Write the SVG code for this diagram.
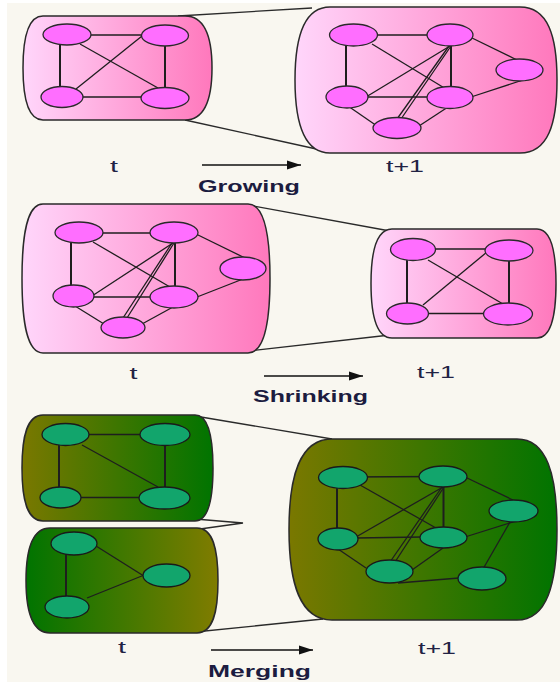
<svg xmlns="http://www.w3.org/2000/svg" width="560" height="682" viewBox="0 0 560 682">
  <defs>
    <linearGradient id="pinkGrad" x1="0" y1="0" x2="1" y2="0">
      <stop offset="0" stop-color="#ffd6fb"/>
      <stop offset="1" stop-color="#ff78bc"/>
    </linearGradient>
    <linearGradient id="oliveToGreen" x1="0" y1="0" x2="1" y2="0">
      <stop offset="0" stop-color="#7a7800"/>
      <stop offset="1" stop-color="#007400"/>
    </linearGradient>
    <linearGradient id="greenToOlive" x1="0" y1="0" x2="1" y2="0">
      <stop offset="0" stop-color="#007400"/>
      <stop offset="1" stop-color="#807c00"/>
    </linearGradient>
    <marker id="arrowHead" markerWidth="14" markerHeight="10" refX="14" refY="5" orient="auto" markerUnits="userSpaceOnUse">
      <path d="M0,0.5 L14,5 L0,9.5 Z" fill="#111"/>
    </marker>
    <style>
      .panel { stroke: #2a2a2a; stroke-width: 1.5; }
      .link { stroke: #2a2a2a; stroke-width: 1.3; fill: none; }
      .edge { stroke: #1e1e1e; stroke-width: 1.3; fill: none; }
      .edge.thick { stroke-width: 2; }
      .pink { fill: #ff6eff; stroke: #2a2a2a; stroke-width: 1.3; }
      .teal { fill: #12a56c; stroke: #1a1a1a; stroke-width: 1.3; }
      .step { stroke: #111; stroke-width: 1.5; fill: none; }
      .time { font-family: "Liberation Sans", Arial, sans-serif; font-size: 17px; fill: #222244; }
      .title { font-family: "Liberation Sans", Arial, sans-serif; font-size: 17px; font-weight: bold; fill: #1c1c40; }
    </style>
  </defs>

  <!-- page -->
  <rect x="0" y="0" width="560" height="682" fill="#ffffff"/>
  <rect x="7" y="3" width="553" height="679" fill="#f9f7f0"/>

  <!-- lines joining the snapshots, and the time arrows -->
  <g id="connectors">
    <line class="link" x1="178" y1="16" x2="312" y2="8"/>
    <line class="link" x1="185" y1="120" x2="330" y2="152"/>
    <line class="link" x1="248" y1="205" x2="390" y2="231"/>
    <line class="link" x1="248" y1="351" x2="390" y2="335"/>
    <line class="link" x1="195" y1="416" x2="332" y2="439"/>
    <polyline class="link" points="195,519 243,523 200,529"/>
    <line class="link" x1="195" y1="632" x2="323" y2="619"/>
    <line class="step" x1="202" y1="165" x2="301" y2="165" marker-end="url(#arrowHead)"/>
    <line class="step" x1="264" y1="376" x2="363" y2="376" marker-end="url(#arrowHead)"/>
    <line class="step" x1="211" y1="650" x2="313" y2="650" marker-end="url(#arrowHead)"/>
  </g>

  <!-- growing, time t -->
  <g id="grow-t">
    <path class="panel" fill="url(#pinkGrad)" d="M43,16 H185 C205,16 212,37 212,68 C212,99 205,120 185,120 H43 C28,120 23,99 23,68 C23,37 28,16 43,16 Z"/>
    <g class="edges">
      <line class="edge" x1="67" y1="35" x2="165" y2="35"/>
      <line class="edge thick" x1="60" y1="40" x2="60" y2="92"/>
      <line class="edge thick" x1="165" y1="40" x2="165" y2="92"/>
      <line class="edge" x1="62" y1="97" x2="165" y2="97"/>
      <line class="edge" x1="80" y1="44" x2="158" y2="88"/>
      <line class="edge" x1="76" y1="89" x2="142" y2="36"/>
    </g>
    <ellipse id="g1-a" class="pink" cx="67" cy="34.5" rx="24" ry="10.5"/>
    <ellipse id="g1-b" class="pink" cx="165" cy="35.5" rx="23.5" ry="10.5"/>
    <ellipse id="g1-c" class="pink" cx="62" cy="97" rx="21" ry="10.5"/>
    <ellipse id="g1-d" class="pink" cx="165" cy="98" rx="24" ry="10.5"/>
  </g>

  <!-- growing, time t+1 -->
  <g id="grow-t1">
    <path class="panel" fill="url(#pinkGrad)" d="M330,7 H520 C548,7 557,36 557,80 C557,124 548,153 520,153 H330 C304,153 295,124 295,80 C295,36 304,7 330,7 Z"/>
    <g class="edges">
      <line class="edge" x1="354" y1="35" x2="450" y2="35"/>
      <line class="edge thick" x1="346" y1="42" x2="346" y2="90"/>
      <line class="edge thick" x1="451" y1="42" x2="451" y2="90"/>
      <line class="edge" x1="347" y1="97" x2="450" y2="97"/>
      <line class="edge" x1="372" y1="44" x2="446" y2="89"/>
      <line class="edge" x1="366" y1="97" x2="450" y2="46"/>
      <line class="edge" x1="449" y1="46" x2="397" y2="119"/>
      <line class="edge" x1="451" y1="46" x2="401" y2="119"/>
      <line class="edge" x1="470" y1="37" x2="517" y2="60"/>
      <line class="edge" x1="471" y1="97" x2="523" y2="80"/>
      <line class="edge" x1="348" y1="106" x2="377" y2="126"/>
      <line class="edge" x1="448" y1="107" x2="419" y2="126"/>
    </g>
    <ellipse id="g2-a" class="pink" cx="353.5" cy="35" rx="24" ry="11"/>
    <ellipse id="g2-b" class="pink" cx="450" cy="35" rx="23" ry="11"/>
    <ellipse id="g2-c" class="pink" cx="519.5" cy="70" rx="23.5" ry="11"/>
    <ellipse id="g2-d" class="pink" cx="347" cy="97" rx="21" ry="11"/>
    <ellipse id="g2-e" class="pink" cx="450" cy="97.5" rx="23" ry="11"/>
    <ellipse id="g2-f" class="pink" cx="397" cy="128" rx="24" ry="10.5"/>
  </g>

  <!-- shrinking, time t -->
  <g id="shrink-t">
    <path class="panel" fill="url(#pinkGrad)" d="M43,204 H248 C264,204 270,234 270,278.5 C270,323 264,353 248,353 H43 C27,353 22,323 22,278.5 C22,234 27,204 43,204 Z"/>
    <g class="edges">
      <line class="edge" x1="79" y1="233" x2="174" y2="233"/>
      <line class="edge thick" x1="71" y1="240" x2="71" y2="290"/>
      <line class="edge thick" x1="175" y1="240" x2="175" y2="290"/>
      <line class="edge" x1="74" y1="297" x2="174" y2="297"/>
      <line class="edge" x1="93" y1="242" x2="170" y2="287"/>
      <line class="edge" x1="92" y1="296" x2="173" y2="243"/>
      <line class="edge" x1="172" y1="243" x2="123" y2="318"/>
      <line class="edge" x1="174" y1="243" x2="127" y2="318"/>
      <line class="edge" x1="196" y1="234" x2="245" y2="258"/>
      <line class="edge" x1="197" y1="297" x2="243" y2="279"/>
      <line class="edge" x1="75" y1="306" x2="104" y2="324"/>
      <line class="edge" x1="173" y1="307" x2="142" y2="324"/>
    </g>
    <ellipse id="s1-a" class="pink" cx="79" cy="232.5" rx="24" ry="10.5"/>
    <ellipse id="s1-b" class="pink" cx="174" cy="232.5" rx="24" ry="10.5"/>
    <ellipse id="s1-c" class="pink" cx="243" cy="268.5" rx="23" ry="11.5"/>
    <ellipse id="s1-d" class="pink" cx="73.5" cy="296" rx="20.5" ry="11"/>
    <ellipse id="s1-e" class="pink" cx="174" cy="297" rx="24" ry="11"/>
    <ellipse id="s1-f" class="pink" cx="123" cy="327.5" rx="22" ry="10.5"/>
  </g>

  <!-- shrinking, time t+1 -->
  <g id="shrink-t1">
    <path class="panel" fill="url(#pinkGrad)" d="M392,229 H537 C551,229 556,251 556,283.5 C556,316 551,338 537,338 H392 C376,338 371,316 371,283.5 C371,251 376,229 392,229 Z"/>
    <g class="edges">
      <line class="edge" x1="413" y1="249" x2="509" y2="249"/>
      <line class="edge thick" x1="407" y1="256" x2="407" y2="308"/>
      <line class="edge thick" x1="509" y1="256" x2="509" y2="308"/>
      <line class="edge" x1="408" y1="313.5" x2="508" y2="313.5"/>
      <line class="edge" x1="428" y1="260" x2="503" y2="304"/>
      <line class="edge" x1="423" y1="305" x2="487" y2="252"/>
    </g>
    <ellipse id="s2-a" class="pink" cx="413" cy="249.5" rx="22.5" ry="11"/>
    <ellipse id="s2-b" class="pink" cx="509" cy="250.5" rx="24" ry="10.5"/>
    <ellipse id="s2-c" class="pink" cx="407.5" cy="313.5" rx="21" ry="10.5"/>
    <ellipse id="s2-d" class="pink" cx="508" cy="314" rx="24.5" ry="11"/>
  </g>

  <!-- merging, first community at time t -->
  <g id="merge-t-upper">
    <path class="panel" fill="url(#oliveToGreen)" d="M43,415 H195 C208,415 213,436 213,468 C213,500 208,521 195,521 H43 C27,521 22,500 22,468 C22,436 27,415 43,415 Z"/>
    <g class="edges">
      <line class="edge" x1="66" y1="434.5" x2="165" y2="434.5"/>
      <line class="edge thick" x1="59" y1="440" x2="59" y2="492"/>
      <line class="edge thick" x1="165" y1="440" x2="165" y2="492"/>
      <line class="edge" x1="61" y1="497.5" x2="164" y2="497.5"/>
      <line class="edge" x1="82" y1="445" x2="158" y2="487"/>
    </g>
    <ellipse id="m1-a" class="teal" cx="65.5" cy="434.5" rx="23.5" ry="11"/>
    <ellipse id="m1-b" class="teal" cx="165" cy="434.5" rx="25" ry="11"/>
    <ellipse id="m1-c" class="teal" cx="60.5" cy="497.5" rx="20.5" ry="10.5"/>
    <ellipse id="m1-d" class="teal" cx="164.5" cy="498" rx="25.5" ry="11"/>
  </g>

  <!-- merging, second community at time t -->
  <g id="merge-t-lower">
    <path class="panel" fill="url(#greenToOlive)" d="M50,528 H197 C213,528 218,549 218,580.5 C218,612 213,633 197,633 H50 C32,633 26,612 26,580.5 C26,549 32,528 50,528 Z"/>
    <g class="edges">
      <line class="edge thick" x1="66" y1="550" x2="66" y2="600"/>
      <line class="edge" x1="96" y1="546" x2="143" y2="575.5"/>
      <line class="edge" x1="87" y1="598" x2="143" y2="575.5"/>
    </g>
    <ellipse id="m2-a" class="teal" cx="74" cy="543.5" rx="23" ry="11.5"/>
    <ellipse id="m2-b" class="teal" cx="166.5" cy="575.5" rx="23.5" ry="11.5"/>
    <ellipse id="m2-c" class="teal" cx="67" cy="607" rx="22" ry="11"/>
  </g>

  <!-- merging, combined community at time t+1 -->
  <g id="merge-t1">
    <path class="panel" fill="url(#oliveToGreen)" d="M332,439 H517 C547,439 557,475 557,529.5 C557,584 547,620 517,620 H332 C300,620 289,584 289,529.5 C289,475 300,439 332,439 Z"/>
    <g class="edges">
      <line class="edge" x1="343" y1="477" x2="443" y2="476.5"/>
      <line class="edge thick" x1="337" y1="484" x2="337" y2="533"/>
      <line class="edge thick" x1="443.5" y1="484" x2="443.5" y2="532"/>
      <line class="edge" x1="356" y1="538" x2="422" y2="537"/>
      <line class="edge" x1="360" y1="485" x2="436" y2="528"/>
      <line class="edge" x1="356" y1="537" x2="443" y2="487"/>
      <line class="edge" x1="442" y1="487" x2="390" y2="562"/>
      <line class="edge" x1="444" y1="487" x2="395" y2="562"/>
      <line class="edge" x1="465" y1="477" x2="513" y2="500"/>
      <line class="edge" x1="465" y1="537" x2="513" y2="522"/>
      <line class="edge" x1="510" y1="522" x2="483" y2="569"/>
      <line class="edge" x1="338" y1="549" x2="366" y2="568"/>
      <line class="edge" x1="443" y1="548" x2="412" y2="570"/>
      <line class="edge" x1="398" y1="583" x2="459" y2="578"/>
    </g>
    <ellipse id="m3-a" class="teal" cx="343" cy="477.5" rx="24.5" ry="11"/>
    <ellipse id="m3-b" class="teal" cx="443" cy="476.5" rx="24" ry="10.5"/>
    <ellipse id="m3-c" class="teal" cx="513.5" cy="511" rx="24.5" ry="11"/>
    <ellipse id="m3-d" class="teal" cx="338" cy="539" rx="20" ry="11"/>
    <ellipse id="m3-e" class="teal" cx="443.5" cy="537.5" rx="23.5" ry="10.5"/>
    <ellipse id="m3-f" class="teal" cx="389.5" cy="571.5" rx="23.5" ry="11.5"/>
    <ellipse id="m3-g" class="teal" cx="482" cy="578.5" rx="24" ry="11.5"/>
  </g>

  <!-- time stamps and event names -->
  <g id="labels">
    <text class="time" x="110" y="172" textLength="8" lengthAdjust="spacingAndGlyphs">t</text>
    <text class="time" x="386" y="172" textLength="38" lengthAdjust="spacingAndGlyphs">t+1</text>
    <text class="title" x="198" y="192" textLength="102" lengthAdjust="spacingAndGlyphs">Growing</text>

    <text class="time" x="129.5" y="379" textLength="8" lengthAdjust="spacingAndGlyphs">t</text>
    <text class="time" x="417" y="378" textLength="38" lengthAdjust="spacingAndGlyphs">t+1</text>
    <text class="title" x="253" y="402" textLength="115" lengthAdjust="spacingAndGlyphs">Shrinking</text>

    <text class="time" x="118" y="653" textLength="8" lengthAdjust="spacingAndGlyphs">t</text>
    <text class="time" x="418" y="654" textLength="38" lengthAdjust="spacingAndGlyphs">t+1</text>
    <text class="title" x="208" y="677" textLength="103" lengthAdjust="spacingAndGlyphs">Merging</text>
  </g>
</svg>
